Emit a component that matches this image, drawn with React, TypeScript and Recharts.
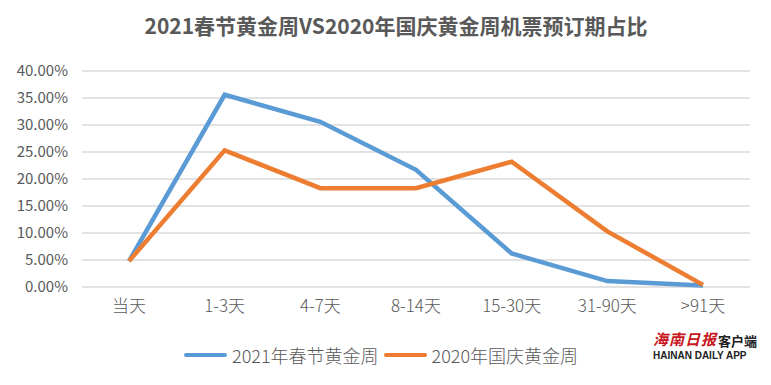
import React from "react";
import { LineChart, Line, XAxis, YAxis, CartesianGrid } from "recharts";

const categories = ["当天", "1-3天", "4-7天", "8-14天", "15-30天", "31-90天", ">91天"];
const spring2021 = [4.8, 35.6, 30.6, 21.7, 6.2, 1.1, 0.3];
const national2020 = [4.8, 25.3, 18.3, 18.3, 23.2, 10.3, 0.4];
const yTicks = [0, 5, 10, 15, 20, 25, 30, 35, 40];

const series = [
	{ key: "spring", name: "2021年春节黄金周", color: "#5b9bd5" },
	{ key: "national", name: "2020年国庆黄金周", color: "#ed7d31" },
];

const data = categories.map((c, i) => ({
	name: c,
	spring: spring2021[i],
	national: national2020[i],
}));

const FONT = '"Noto Sans CJK SC", "Noto Sans", sans-serif';
const TXT = "#595959";

export default function App() {
	return (
		<div
			style={{
				position: "absolute",
				left: 0,
				top: 0,
				width: 771,
				height: 385,
				background: "#fff",
				fontFamily: FONT,
				overflow: "hidden",
			}}
		>
			<div
				style={{
					position: "absolute",
					top: 10,
					left: 0,
					width: 792,
					textAlign: "center",
					fontSize: 21,
					fontWeight: 700,
					color: TXT,
				}}
			>
				2021春节黄金周VS2020年国庆黄金周机票预订期占比
			</div>
			<LineChart
				width={771}
				height={385}
				data={data}
				margin={{ top: 71, right: 21, left: 0, bottom: 68 }}
			>
				<CartesianGrid vertical={false} stroke="#d9d9d9" strokeWidth={1.5} />
				<XAxis
					dataKey="name"
					axisLine={false}
					tickLine={false}
					tickSize={0}
					tickMargin={13}
					height={30}
					interval={0}
					padding={{ left: 47, right: 47 }}
					tick={{ fill: TXT, fontSize: 17, fontFamily: FONT, fontWeight: 300 }}
				/>
				<YAxis
					width={82}
					domain={[0, 40]}
					ticks={yTicks}
					axisLine={false}
					tickLine={false}
					tickSize={0}
					tickMargin={14}
					tickFormatter={(v) => `${v.toFixed(2)}%`}
					tick={{ fill: TXT, fontSize: 15, fontFamily: FONT }}
				/>
				{series.map((s) => (
					<Line
						key={s.key}
						type="linear"
						dataKey={s.key}
						name={s.name}
						stroke={s.color}
						strokeWidth={4.5}
						dot={false}
						isAnimationActive={false}
					/>
				))}
			</LineChart>
			<div
				style={{
					position: "absolute",
					top: 342,
					left: 184,
					height: 26,
					display: "flex",
					alignItems: "center",
					fontSize: 18,
					fontWeight: 300,
					color: TXT,
					whiteSpace: "nowrap",
				}}
			>
				{series.map((s) => (
					<div key={s.key} style={{ display: "flex", alignItems: "center", marginRight: 5 }}>
						<span
							style={{
								display: "inline-block",
								width: 43,
								height: 4,
								borderRadius: 2,
								background: s.color,
								marginRight: 5,
							}}
						/>
						<span>{s.name}</span>
					</div>
				))}
			</div>
			<div style={{ position: "absolute", top: 328, left: 653, width: 115, whiteSpace: "nowrap" }}>
				<div style={{ display: "flex", alignItems: "flex-end", height: 21 }}>
					<span
						style={{
							color: "#c8161d",
							fontSize: 15,
							fontStyle: "italic",
							fontWeight: 700,
							letterSpacing: 1,
							lineHeight: "20px",
						}}
					>
						海南日报
					</span>
					<span style={{ color: "#222", fontSize: 13, fontWeight: 700, marginLeft: 1, lineHeight: "16px" }}>
						客户端
					</span>
				</div>
				<div
					style={{
						fontFamily: '"Liberation Sans", Arial, sans-serif',
						fontSize: 10,
						fontWeight: 700,
						color: "#222",
						lineHeight: "12px",
						marginTop: 1,
					}}
				>
					HAINAN DAILY APP
				</div>
			</div>
		</div>
	);
}
